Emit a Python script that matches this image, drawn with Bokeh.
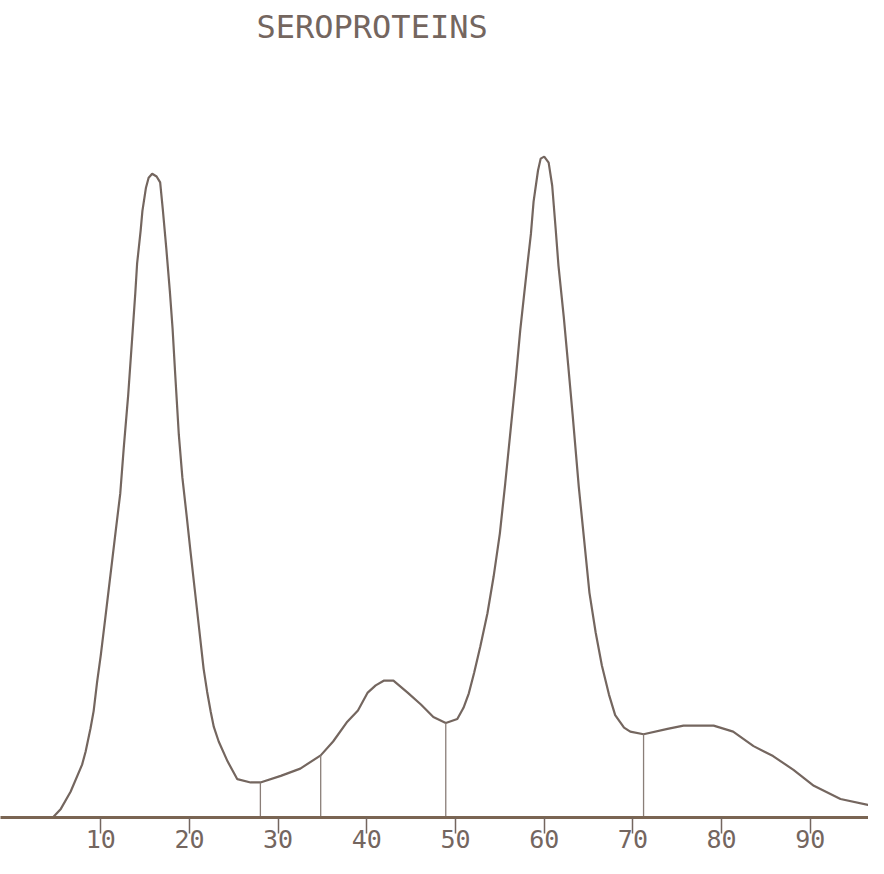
from bokeh.plotting import figure
from bokeh.models import Range1d, FixedTicker, Title
from bokeh.embed import file_html
from bokeh.resources import INLINE

# Densitometry trace (x: migration position, y: relative density, 0-100)
pos = [0.0, 4.6, 5.5, 6.6, 7.9, 8.3, 8.85, 9.2, 9.6, 10.0, 10.5, 10.9, 11.3, 11.7,
       12.2, 12.6, 13.1, 13.6, 13.9, 14.1, 14.5, 14.7, 15.1, 15.4, 15.8, 16.3, 16.7,
       17.0, 17.4, 17.8, 18.1, 18.4, 18.8, 19.2, 19.7, 20.1, 20.6, 21.1, 21.6,
       22.0, 22.4, 22.75, 23.3, 24.3, 25.4, 26.9, 28.0, 30.3, 32.5, 34.8, 36.2, 37.8, 39.0,
       40.1, 41.0, 41.9, 43.0, 44.6, 46.1, 47.5, 48.9, 50.2, 50.9, 51.5, 52.1, 52.8,
       53.6, 54.3, 55.0, 55.6, 56.2, 56.8, 57.3, 57.7,
       58.1, 58.5, 58.8, 59.3, 59.6, 60.0, 60.5, 60.9, 61.3, 61.6, 62.2, 62.7, 63.2,
       63.9, 64.5, 65.1, 65.8, 66.5, 67.3, 68.0,
       69.0, 69.7, 71.2, 73.9, 75.7, 79.1, 81.3, 83.6, 85.8, 88.1, 90.4, 93.4, 96.5, 98.3]
density = [0, 0, 1.3, 3.9, 8.0, 10.0, 13.5, 16.1, 20.6, 24.5, 30.0, 34.5, 39.0, 43.5,
           49.0, 56.0, 64.0, 73.6, 79.4, 83.8, 88.8, 91.8, 95.3, 96.8, 97.4, 97.0, 96.1,
           92.0, 86.0, 79.5, 74.0, 67.0, 58.0, 51.5, 45.5, 40.5, 34.5, 28.5, 22.5,
           19.0, 16.0, 13.7, 11.5, 8.5, 5.8, 5.3, 5.3, 6.3, 7.4, 9.4, 11.5, 14.5, 16.2,
           18.9, 20.0, 20.7, 20.7, 18.9, 17.1, 15.2, 14.3, 14.9, 16.6, 18.8, 21.9, 25.9,
           30.9, 36.5, 43.0, 50.5, 58.5, 66.5, 73.8, 78.7,
           83.6, 88.3, 93.2, 97.9, 99.7, 100.0, 99.1, 95.6, 88.9, 83.6, 75.8, 68.5, 61.0,
           50.0, 42.0, 34.0, 28.0, 23.0, 18.6, 15.5,
           13.6, 13.0, 12.6, 13.4, 13.9, 13.9, 13.0, 10.8, 9.3, 7.2, 4.8, 2.8, 1.9, 1.4]

# Fraction dividers (position, height at the trace)
divider_pos = [28.0, 34.8, 48.9, 71.2]
divider_height = [5.3, 9.4, 14.3, 12.6]

tick_values = [10, 20, 30, 40, 50, 60, 70, 80, 90]

INK = "#74665f"
AXIS_INK = "#7a6553"

p = figure(width=868, height=858, output_backend="svg", toolbar_location=None,
           x_range=Range1d(-1.30, 96.56), y_range=Range1d(0, 116.06),
           min_border_left=0, min_border_right=0, min_border_top=0, min_border_bottom=41)

p.title = Title(text="SEROPROTEINS", align="left", offset=256,
                text_font="DejaVu Sans Mono", text_font_size="32px",
                text_font_style="normal", text_color=INK)

p.line(pos, density, line_color=INK, line_width=2.2)
p.segment(x0=divider_pos, y0=[0] * len(divider_pos), x1=divider_pos, y1=divider_height,
          line_color="#8a7e78", line_width=1.3)

p.yaxis.visible = False
p.grid.visible = False
p.outline_line_color = None
p.background_fill_color = "white"
p.border_fill_color = "white"

ax = p.xaxis[0]
ax.ticker = FixedTicker(ticks=tick_values)
ax.axis_line_color = AXIS_INK
ax.axis_line_width = 3
ax.major_tick_line_color = INK
ax.major_tick_line_width = 1.5
ax.major_tick_in = 0
ax.major_tick_out = 16
ax.minor_tick_line_color = None
ax.major_label_standoff = -4
ax.major_label_text_font = "DejaVu Sans Mono"
ax.major_label_text_font_size = "25px"
ax.major_label_text_color = INK

open("out.html", "w").write(file_html(p, INLINE))
